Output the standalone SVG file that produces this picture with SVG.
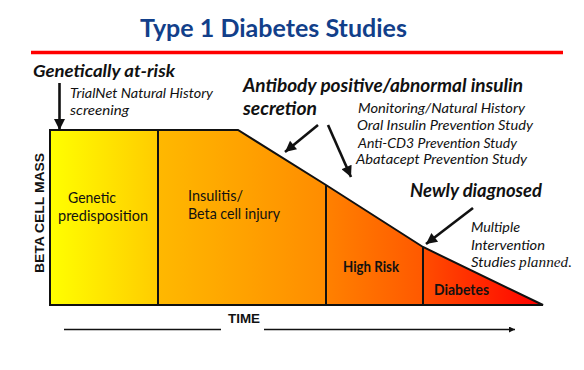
<svg xmlns="http://www.w3.org/2000/svg" width="584" height="370" viewBox="0 0 584 370">
<style>
.t{font-family:Lato,"Open Sans","Liberation Sans",sans-serif;fill:#111}
.bi{font-weight:bold;font-style:italic}
.it{font-style:italic}
.b{font-weight:bold}
.ax{font-family:"Liberation Sans",Arial,sans-serif;font-weight:bold;fill:#111}
.arr{stroke:#111;stroke-width:2.6;fill:none;marker-end:url(#ah)}
.div{stroke:#111;stroke-width:2;fill:none}
</style>
<defs>
<marker id="ah" viewBox="0 0 10 10" refX="10" refY="5" markerUnits="userSpaceOnUse" markerWidth="14" markerHeight="11" orient="auto">
<path d="M0,0 L10,5 L0,10 z" fill="#111"/>
</marker>
<marker id="ah2" viewBox="0 0 10 10" refX="10" refY="5" markerUnits="userSpaceOnUse" markerWidth="7" markerHeight="6" orient="auto">
<path d="M0,0 L10,5 L0,10 z" fill="#111"/>
</marker>
<linearGradient id="g" gradientUnits="userSpaceOnUse" x1="50" y1="0" x2="543" y2="0">
<stop offset="0" stop-color="#ffff00"/>
<stop offset="0.219" stop-color="#ffcc00"/>
<stop offset="0.222" stop-color="#ffb800"/>
<stop offset="0.56" stop-color="#ff8c00"/>
<stop offset="0.565" stop-color="#ff8000"/>
<stop offset="0.75" stop-color="#ff5a00"/>
<stop offset="0.76" stop-color="#ff4c00"/>
<stop offset="1" stop-color="#ff0000"/>
</linearGradient>
</defs>

<g id="title">
<text class="t b" x="273.5" y="37" font-size="24" text-anchor="middle" textLength="267" lengthAdjust="spacingAndGlyphs" style="fill:#123f8a">Type 1 Diabetes Studies</text>
<line x1="31" y1="52.5" x2="563" y2="52.5" stroke="#ff0000" stroke-width="3.5"/>
</g>

<g id="chart">
<path d="M50,130 L238,130 L326,185 L423,247 L543,305 L50,305 Z" fill="url(#g)" stroke="#111" stroke-width="2" stroke-linejoin="miter"/>
<line class="div" x1="158" y1="130" x2="158" y2="305"/>
<line class="div" x1="326" y1="185" x2="326" y2="305"/>
<line class="div" x1="423" y1="247" x2="423" y2="305"/>
</g>

<g id="stage-genetic">
<text class="t" x="68" y="203" font-size="15" textLength="48" lengthAdjust="spacingAndGlyphs">Genetic</text>
<text class="t" x="58" y="221" font-size="15" textLength="90" lengthAdjust="spacingAndGlyphs">predisposition</text>
</g>
<g id="stage-insulitis">
<text class="t" x="188" y="201" font-size="15" textLength="55" lengthAdjust="spacingAndGlyphs">Insulitis/</text>
<text class="t" x="188" y="219" font-size="15" textLength="92" lengthAdjust="spacingAndGlyphs">Beta cell injury</text>
</g>
<g id="stage-highrisk">
<text class="t b" x="343" y="272" font-size="15" textLength="56" lengthAdjust="spacingAndGlyphs">High Risk</text>
</g>
<g id="stage-diabetes">
<text class="t b" x="434" y="295" font-size="15" textLength="55" lengthAdjust="spacingAndGlyphs">Diabetes</text>
</g>

<g id="axes">
<text class="ax" transform="translate(44,213) rotate(-90)" font-size="13.5" text-anchor="middle" textLength="120" lengthAdjust="spacingAndGlyphs">BETA CELL MASS</text>
<text class="ax" x="228" y="323" font-size="13.5" textLength="32" lengthAdjust="spacingAndGlyphs">TIME</text>
</g>

<g id="label-genetically">
<text class="t bi" x="33" y="77" font-size="17" textLength="142" lengthAdjust="spacingAndGlyphs">Genetically at-risk</text>
<text class="t it" x="70" y="98" font-size="14" textLength="143" lengthAdjust="spacingAndGlyphs">TrialNet Natural History</text>
<text class="t it" x="70" y="115" font-size="14" textLength="59" lengthAdjust="spacingAndGlyphs">screening</text>
</g>

<g id="label-antibody">
<text class="t bi" x="243" y="92" font-size="18" textLength="280" lengthAdjust="spacingAndGlyphs">Antibody positive/abnormal insulin</text>
<text class="t bi" x="243" y="115" font-size="18" textLength="74" lengthAdjust="spacingAndGlyphs">secretion</text>
<text class="t it" x="358" y="112.5" font-size="14" textLength="167" lengthAdjust="spacingAndGlyphs">Monitoring/Natural History</text>
<text class="t it" x="357" y="130" font-size="14" textLength="176" lengthAdjust="spacingAndGlyphs">Oral Insulin Prevention Study</text>
<text class="t it" x="358" y="147.5" font-size="14" textLength="159" lengthAdjust="spacingAndGlyphs">Anti-CD3 Prevention Study</text>
<text class="t it" x="356" y="163.5" font-size="14" textLength="171" lengthAdjust="spacingAndGlyphs">Abatacept Prevention Study</text>
</g>

<g id="label-newly">
<text class="t bi" x="410" y="197" font-size="18" textLength="132" lengthAdjust="spacingAndGlyphs">Newly diagnosed</text>
<text class="t it" x="471" y="232" font-size="14" textLength="49" lengthAdjust="spacingAndGlyphs">Multiple</text>
<text class="t it" x="471" y="250" font-size="14" textLength="74" lengthAdjust="spacingAndGlyphs">Intervention</text>
<text class="t it" x="471" y="267" font-size="14"><tspan textLength="45" lengthAdjust="spacingAndGlyphs">Studies</tspan><tspan x="519" font-family="'Liberation Serif',serif" textLength="53" lengthAdjust="spacingAndGlyphs">planned.</tspan></text>
</g>

<g id="connectors">
<line class="arr" x1="59.5" y1="83" x2="59.5" y2="130"/>
<line class="arr" x1="318" y1="125" x2="285" y2="152"/>
<line class="arr" x1="328" y1="125" x2="351" y2="177"/>
<line class="arr" x1="473" y1="208" x2="426" y2="244"/>
<line x1="64" y1="329.5" x2="221" y2="329.5" stroke="#111" stroke-width="1.6"/>
<line x1="264" y1="329.5" x2="515" y2="329.5" stroke="#111" stroke-width="1.6" marker-end="url(#ah2)"/>
</g>
</svg>
